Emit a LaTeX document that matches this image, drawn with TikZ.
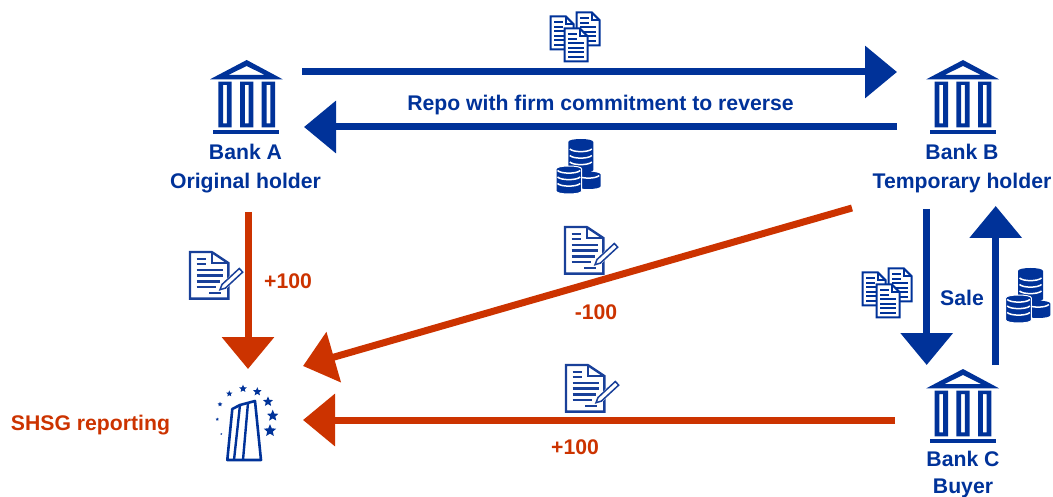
\documentclass[tikz,border=0pt]{standalone}
\usepackage{xcolor}
\usepackage{fontspec}
\setmainfont{Liberation Sans}
\usepackage{tikz}
\usetikzlibrary{positioning,arrows.meta,shapes.geometric}
\definecolor{c_blue}{rgb}{0.0, 0.196, 0.6}
\definecolor{c_note}{rgb}{0.1, 0.25, 0.6}
\definecolor{c_red}{rgb}{0.8, 0.2, 0.0}
\newcommand{\coinstack}[5]{%
\fill[c_blue, #5] (#1,#2+3) .. controls (#1,#2-1) and (#1+#3,#2-1) .. (#1+#3,#2+3) -- (#1+#3,#2+#4-3) .. controls (#1+#3,#2+#4+1) and (#1,#2+#4+1) .. (#1,#2+#4-3) -- cycle;
}
\newcommand{\coinline}[3]{%
\draw[white, line width=1.5pt] (#1+1.5,#2) .. controls (#1+5,#2+3.5) and (#1+#3-5,#2+3.5) .. (#1+#3-1.5,#2);
}
\tikzset{c-label/.style={text=c_blue, font=\fontsize{21.2}{29}\selectfont\bfseries, align=center, inner sep=0pt},
r-label/.style={c-label, text=c_red},
arrow/.style={line width=7pt, c_blue, -{Triangle[width=51pt,length=32pt]}},
r-arrow/.style={arrow, c_red},
eu-star/.style={star, star points=5, star point ratio=2.2, fill=c_blue, inner sep=0pt},
bankicon/.pic={
\fill[c_blue, even odd rule] (0,0) -- (36,19.3) -- (-36.7,19.3) -- cycle (0,6) -- (-18.5,15) -- (18.1,15) -- cycle;
\foreach \cx in {-28.4,-6.7,15} {
\fill[c_blue, even odd rule] (\cx,21.7) rectangle (\cx+13.4,67.3) (\cx+4.8,25) rectangle (\cx+8.6,63.3);
}
\fill[c_blue] (-33.4,70) rectangle (32.6,74);
},
pageicon/.pic={
\draw[c_blue, fill=white, line width=2pt] (0,0) -- (15,0) -- (23,8) -- (23,33) -- (0,33) -- cycle;
\draw[c_blue, line width=1.6pt] (15,0) -- (15,8) -- (23,8);
\foreach \ly in {6,10.5} {\draw[c_blue, line width=2.2pt] (3.5,\ly) -- (12,\ly);}
\foreach \ly in {15,19.5,24,28.5} {\draw[c_blue, line width=2.2pt] (3.5,\ly) -- (19.5,\ly);}
},
docsicon/.pic={
\pic at (0,4) {pageicon};
\pic at (26,0) {pageicon};
\pic at (14,16) {pageicon};
},
coinsicon/.pic={
\coinstack{12.3}{-27}{25}{34}{}
\foreach \ly in {-17,-10.5,-4} {\coinline{12.3}{\ly}{25}}
\coinstack{20}{5.7}{24.7}{17.3}{}
\coinline{20}{9.5}{24.7}
\coinstack{0}{0}{25.7}{28}{draw=white, line width=1pt}
\foreach \ly in {4.5,11,17.5} {\coinline{0}{\ly}{25.7}}
},
noteicon/.pic={
\draw[c_note, line width=2.4pt] (0,0) -- (21.7,0) -- (38.3,11) -- (38.3,46.6) -- (0,46.6) -- cycle;
\draw[c_note, line width=1.8pt] (21.7,0) -- (21.7,11) -- (38.3,11);
\foreach \ly in {7,12} {\draw[c_note, line width=2.4pt] (6.7,\ly) -- (16,\ly);}
\foreach \ly in {18,23.5} {\draw[c_note, line width=2.4pt] (6.7,\ly) -- (32.5,\ly);}
\draw[c_note, line width=2.4pt] (6.7,29.5) -- (30,29.5);
\draw[c_note, line width=2.4pt] (6.7,35) -- (26,35);
\draw[c_note, line width=1.8pt] (19,41) -- (31,41);
\draw[white, fill=white, line width=2pt] (30,37.7) -- (32,32.5) -- (49.3,16.5) -- (52.7,20.1) -- (35.4,36.1) -- cycle;
\draw[c_note, line width=1.5pt] (30,37.7) -- (32,32.5) -- (49.3,16.5) -- (52.7,20.1) -- (35.4,36.1) -- cycle;
}}
\begin{document}
\begin{tikzpicture}[x=1pt, y=-1pt]
\useasboundingbox (0,0) rectangle (1053,497);
% banks
\pic at (246.7,60) {bankicon};
\pic at (963,60) {bankicon};
\pic at (963,369) {bankicon};
\node (n0) [c-label] at (245.5,169) {Bank A\\Original holder};
\node (n1) [c-label] at (962,169) {Bank B\\Temporary holder};
\node (n2) [c-label] at (963,474.5) {Bank C\\[-2pt]Buyer};
% arrow ends
\coordinate (a0) at (302,72);
\coordinate (a1) at (897,72);
\coordinate (b0) at (897,127);
\coordinate (b1) at (304,127);
\coordinate (c0) at (248,212);
\coordinate (c1) at (248,369);
\coordinate (d0) at (852,208);
\coordinate (d1) at (303,366);
\coordinate (e0) at (895,420);
\coordinate (e1) at (303,420);
\coordinate (f0) at (926.7,209);
\coordinate (f1) at (926.7,365);
\coordinate (g0) at (995.7,365);
\coordinate (g1) at (995.7,206);
\draw [arrow] (a0) -- (a1);
\draw [arrow] (b0) -- (b1);
\draw [arrow] (f0) -- (f1);
\draw [arrow] (g0) -- (g1);
\draw [r-arrow] (c0) -- (c1);
\draw [r-arrow] (d0) -- (d1);
\draw [r-arrow] (e0) -- (e1);
% labels
\node (n3) [c-label] at (600.5,105.5) {Repo with firm commitment to reverse};
\node (n4) [c-label] at (962,298) {Sale};
\node (n5) [r-label] at (288,281) {+100};
\node (n6) [r-label] at (596,312) {-100};
\node (n7) [r-label] at (575,447) {+100};
\node (n8) [r-label] at (90.5,425.5) {SHSG reporting};
% icons
\pic at (550.7,12.3) {docsicon};
\pic at (862.7,268.3) {docsicon};
\pic at (556,166) {coinsicon};
\pic at (1005.7,295) {coinsicon};
\pic at (190,252) {noteicon};
\pic at (565,227) {noteicon};
\pic at (566,365) {noteicon};
% tower
\draw[c_blue, line width=2.6pt, line join=round] (227.3,460) -- (232.3,409) -- (240,405) -- (255,401) -- (261,460) -- cycle;
\draw[c_blue, line width=2.4pt] (240,405) -- (234,460);
\draw[c_blue, line width=2.4pt] (248,403) -- (243,460);
\foreach \i/\sx/\sy/\ss in {1/270/430.7/13,2/272.7/415.7/12,3/268/401.7/10.5,4/257.3/391.7/9,5/243/388.7/8,6/229.3/393.7/6.5,7/220/404.3/5,8/217.3/419.3/3.5,9/221.3/434/2} {
\node (s\i) [eu-star, minimum size=\ss pt] at (\sx,\sy) {};
}
\end{tikzpicture}
\end{document}
